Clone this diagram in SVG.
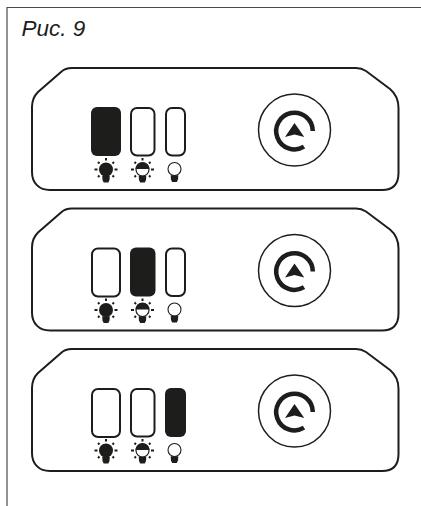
<svg xmlns="http://www.w3.org/2000/svg" xmlns:xlink="http://www.w3.org/1999/xlink" width="421" height="506" viewBox="0 0 421 506">
<style>
.d{fill:#1d1d1b}
.o{fill:none;stroke:#1d1d1b}
.w{fill:#fff;stroke:#1d1d1b}
text{font-family:"Liberation Sans",Arial,sans-serif;font-style:italic;font-size:22.500px;fill:#1d1d1b}
</style>
<defs>
<path id="shell" class="o" stroke-width="2" d="M72 68H356C360 68 363 69 366 71L390 89C396 94 398.500 100 398.500 108V173C398.500 184 393 190 382 190H50C39 190 32 183 32 172V107C32 101 34 96 38 92L61 72C64 69 68 68 72 68Z"/>
<path id="rays" class="o" stroke-width="2" d="M0 -11.500V-9M-11.500 0H-8.500M11.500 0H8.500M-8 -7.500L-6.500 -6M8 -7.500L6.500 -6M-8 7.500L-6.500 6M8 7.500L6.500 6"/>
<path id="base" class="d" d="M-3.800 6.200H3.800L3.500 10.500L2.300 13H-2.300L-3.500 10.500Z"/>
<g id="bulb-full"><use xlink:href="#rays"/><circle r="7" class="d"/><use xlink:href="#base"/></g>
<g id="bulb-half"><use xlink:href="#rays"/><circle r="6.500" class="w" stroke-width="1.200"/><path class="d" d="M-7 -0.500A7 7 0 0 1 7 -0.500Z"/><use xlink:href="#base"/></g>
<g id="bulb-off"><circle r="6.500" class="w" stroke-width="1.100"/><use xlink:href="#base"/></g>
<g id="dial">
<circle cx="294.500" cy="130" r="36" fill="#fff" stroke="#1d1d1b" stroke-width="1.500"/>
<path fill="none" stroke="#1d1d1b" stroke-width="4.500" d="M312.800 131A18.300 18.300 0 1 0 304 146.700"/>
<path class="d" d="M294.500 123L304.300 137L294.500 134.500L285 137Z"/>
</g>
<rect id="s1" class="o" x="92" y="108" width="28" height="48" rx="6" stroke-width="2"/>
<rect id="s2" class="o" x="131" y="108" width="23.500" height="47.500" rx="6" stroke-width="2"/>
<rect id="s3" class="o" x="166" y="108" width="19" height="47.500" rx="6" stroke-width="2"/>
<rect id="f1" class="d" x="91" y="107" width="30" height="49" rx="6"/>
<rect id="f2" class="d" x="130" y="107" width="25.500" height="49" rx="6"/>
<rect id="f3" class="d" x="165" y="107" width="21" height="49" rx="6"/>
<g id="bulbs">
<use xlink:href="#bulb-full" x="106" y="169.500"/>
<use xlink:href="#bulb-half" x="142.500" y="169.500"/>
<use xlink:href="#bulb-off" x="174.500" y="169"/>
</g>
</defs>
<path id="frame" fill="none" stroke="#4a4a49" stroke-width="1.200" d="M7 506V7.500H421"/>
<text x="21.500" y="36">Рис. 9</text>
<g id="panel-1">
<use xlink:href="#shell"/><use xlink:href="#f1"/><use xlink:href="#s2"/><use xlink:href="#s3"/><use xlink:href="#bulbs"/><use xlink:href="#dial"/>
</g>
<g id="panel-2" transform="translate(0 140.500)">
<use xlink:href="#shell"/><use xlink:href="#s1"/><use xlink:href="#f2"/><use xlink:href="#s3"/><use xlink:href="#bulbs"/><use xlink:href="#dial"/>
</g>
<g id="panel-3" transform="translate(0 281)">
<use xlink:href="#shell"/><use xlink:href="#s1"/><use xlink:href="#s2"/><use xlink:href="#f3"/><use xlink:href="#bulbs"/><use xlink:href="#dial"/>
</g>
</svg>
